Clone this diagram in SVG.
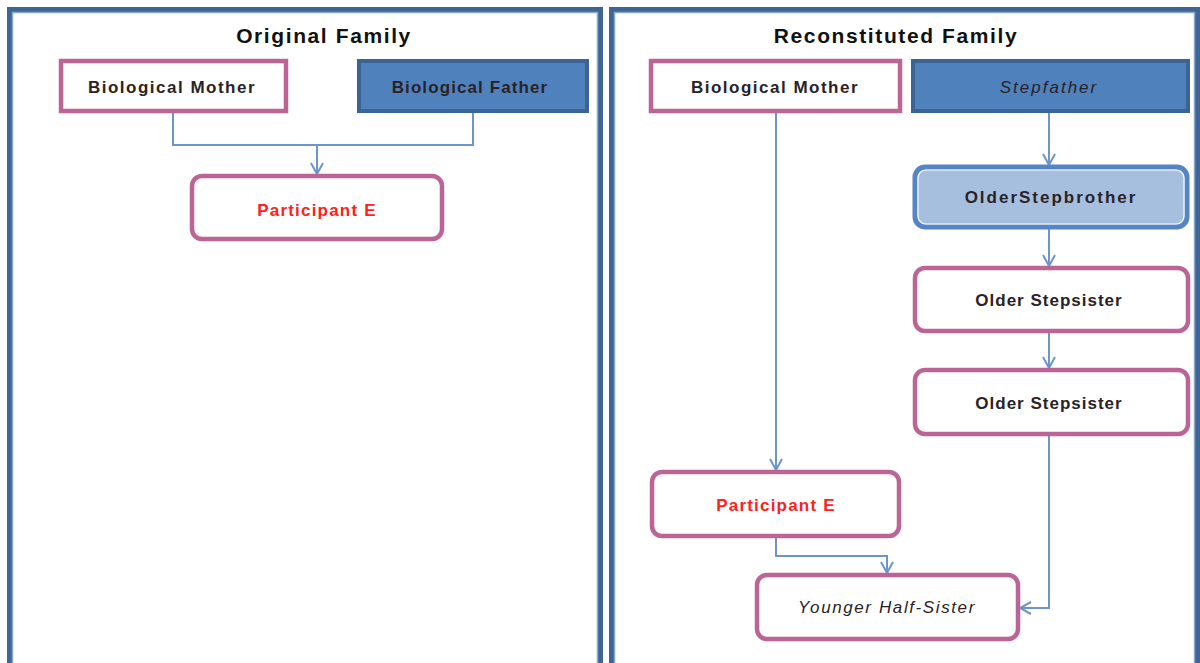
<svg xmlns="http://www.w3.org/2000/svg" width="1200" height="663" viewBox="0 0 1200 663">
<defs>
<style>
.panel{fill:#fff;stroke:#3f6596;stroke-width:5}
.panelIn{fill:none;stroke:#8aa8cc;stroke-width:1.5}
.title{font-family:"Liberation Sans",Arial,sans-serif;font-weight:bold;font-size:21px;fill:#111;text-anchor:middle;letter-spacing:1.6px}
.pink{fill:#fff;stroke:#bb6495;stroke-width:4.5}
.blue{fill:#4f81bd;stroke:#3b6394;stroke-width:4}
.sb{fill:#a7bfde;stroke:#5585c6;stroke-width:5}
.sbIn{fill:none;stroke:#fff;stroke-width:1.2}
.lbl{font-family:"Liberation Sans",Arial,sans-serif;font-weight:bold;font-size:17px;fill:#2a2226;text-anchor:middle}
.red{fill:#ff2020}
.it{font-style:italic;font-weight:normal}
.conn{fill:none;stroke:#6b96ca;stroke-width:2}
</style>
<marker id="arr" markerWidth="14" markerHeight="14" refX="12" refY="7" orient="auto" markerUnits="userSpaceOnUse">
<path d="M1,1 L12,7 L1,13" fill="none" stroke="#6b96ca" stroke-width="2"/>
</marker>
</defs>

<g id="panel-original">
<rect class="panel" x="9.5" y="9.5" width="591" height="660"/>
<rect class="panelIn" x="12.5" y="12.5" width="585" height="660"/>
<text class="title" x="324" y="43">Original Family</text>
</g>
<g id="panel-reconstituted">
<rect class="panel" x="611.5" y="9.5" width="586" height="660"/>
<rect class="panelIn" x="614.5" y="12.5" width="580" height="660"/>
<text class="title" x="896" y="43">Reconstituted Family</text>
</g>

<g id="connectors">
<path class="conn" d="M173,113 V145 H473 V113"/>
<path class="conn" d="M317,145 V174" marker-end="url(#arr)"/>
<path class="conn" d="M1049,113 V165" marker-end="url(#arr)"/>
<path class="conn" d="M1049,228 V266" marker-end="url(#arr)"/>
<path class="conn" d="M1049,333 V368" marker-end="url(#arr)"/>
<path class="conn" d="M1049,436 V608 H1020" marker-end="url(#arr)"/>
<path class="conn" d="M776,113 V470" marker-end="url(#arr)"/>
<path class="conn" d="M776,538 V556 H887 V573" marker-end="url(#arr)"/>
</g>

<g id="orig-mother">
<rect class="pink" x="61" y="61" width="225" height="50"/>
<text class="lbl" x="172" y="93" font-size="18" letter-spacing="1.5">Biological Mother</text>
</g>
<g id="orig-father">
<rect class="blue" x="359" y="61" width="228" height="50"/>
<text class="lbl" x="470" y="93" font-size="18" letter-spacing="1.1">Biological Father</text>
</g>
<g id="orig-participant">
<rect class="pink" x="192" y="176" width="250" height="63" rx="10"/>
<text class="lbl red" x="317" y="216" letter-spacing="1.2">Participant E</text>
</g>

<g id="rec-mother">
<rect class="pink" x="651" y="61" width="249" height="50"/>
<text class="lbl" x="775" y="93" font-size="18" letter-spacing="1.5">Biological Mother</text>
</g>
<g id="rec-stepfather">
<rect class="blue" x="913" y="61" width="275" height="50"/>
<text class="lbl it" x="1049" y="93" font-size="18" letter-spacing="2">Stepfather</text>
</g>
<g id="rec-stepbrother">
<rect class="sb" x="915" y="167" width="272" height="60" rx="10"/>
<rect class="sbIn" x="918" y="170" width="266" height="54" rx="8"/>
<text class="lbl" x="1051" y="203" font-size="18" letter-spacing="2">OlderStepbrother</text>
</g>
<g id="rec-stepsister1">
<rect class="pink" x="915" y="268" width="273" height="63" rx="10"/>
<text class="lbl" x="1049" y="306" letter-spacing="1">Older Stepsister</text>
</g>
<g id="rec-stepsister2">
<rect class="pink" x="915" y="370" width="273" height="64" rx="10"/>
<text class="lbl" x="1049" y="409" letter-spacing="1">Older Stepsister</text>
</g>
<g id="rec-participant">
<rect class="pink" x="652" y="472" width="247" height="64" rx="10"/>
<text class="lbl red" x="776" y="511" letter-spacing="1.2">Participant E</text>
</g>
<g id="rec-halfsister">
<rect class="pink" x="757" y="575" width="261" height="64" rx="10"/>
<text class="lbl it" x="887" y="613" letter-spacing="1.6">Younger Half-Sister</text>
</g>
</svg>
